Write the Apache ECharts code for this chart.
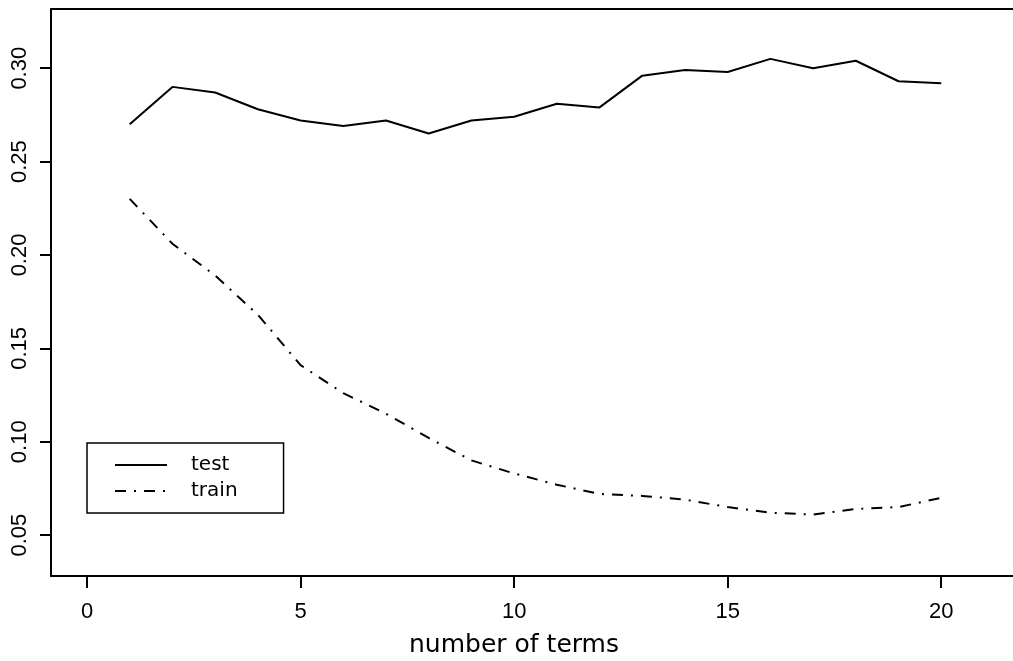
<!DOCTYPE html>
<html>
<head>
<meta charset="utf-8">
<script src="https://cdn.jsdelivr.net/npm/echarts@6/dist/echarts.min.js"></script>
<style>
html, body { margin: 0; padding: 0; background: #fff; }
#main { width: 1013px; height: 661px; }
</style>
</head>
<body>
<div id="main"></div>
<script>
// number of terms
var terms = [1, 2, 3, 4, 5, 6, 7, 8, 9, 10, 11, 12, 13, 14, 15, 16, 17, 18, 19, 20];
// error rates
var testErr = [0.270, 0.290, 0.287, 0.278, 0.272, 0.269, 0.272, 0.265, 0.272, 0.274,
               0.281, 0.279, 0.296, 0.299, 0.298, 0.305, 0.300, 0.304, 0.293, 0.292];
var trainErr = [0.230, 0.206, 0.189, 0.168, 0.141, 0.126, 0.115, 0.102, 0.090, 0.083,
                0.077, 0.072, 0.071, 0.069, 0.065, 0.062, 0.061, 0.064, 0.065, 0.070];
var xTicks = [0, 5, 10, 15, 20];
var yTicks = [0.05, 0.10, 0.15, 0.20, 0.25, 0.30];

function pairs(ys) {
    var out = [];
    for (var i = 0; i < terms.length; i++) out.push([terms[i], ys[i]]);
    return out;
}

var myChart = echarts.init(document.getElementById('main'));

var axisFont = 'Liberation Sans';

var option = {
    backgroundColor: '#fff',
    animation: false,
    grid: { left: 51, right: 0, top: 9, bottom: 85, outerBoundsMode: 'none', containLabel: false },
    legend: {
        orient: 'vertical',
        left: 87,
        top: 443,
        padding: [12, 46, 12, 27],
        itemGap: 6,
        itemWidth: 52,
        itemHeight: 14,
        borderColor: '#000',
        borderWidth: 1.5,
        itemStyle: { opacity: 0 },
        data: ['test', 'train'],
        textStyle: {
            fontFamily: 'DejaVu Sans',
            fontSize: 20,
            color: '#000',
            padding: [0, 0, 0, 19]
        }
    },
    xAxis: [{
        type: 'value',
        min: -0.843,
        max: 21.68,
        name: 'number of terms',
        nameLocation: 'middle',
        nameGap: 57,
        nameTextStyle: {
            fontFamily: 'DejaVu Sans',
            fontSize: 25,
            color: '#000',
            padding: [0, 36, 0, 0]
        },
        splitLine: { show: false },
        axisLine: { onZero: false, lineStyle: { color: '#000', width: 2 } },
        axisTick: {
            customValues: xTicks,
            length: 12,
            lineStyle: { color: '#000', width: 2 }
        },
        axisLabel: {
            customValues: xTicks,
            margin: 25,
            fontFamily: axisFont,
            fontSize: 22,
            color: '#000'
        }
    }, {
        type: 'value',
        position: 'top',
        min: -0.843,
        max: 21.68,
        splitLine: { show: false },
        axisLine: { onZero: false, lineStyle: { color: '#000', width: 2 } },
        axisTick: { show: false },
        axisLabel: { show: false }
    }],
    yAxis: {
        type: 'value',
        min: 0.0281,
        max: 0.3317,
        splitLine: { show: false },
        axisLine: { show: true, onZero: false, lineStyle: { color: '#000', width: 2 } },
        axisTick: {
            customValues: yTicks,
            length: 11,
            lineStyle: { color: '#000', width: 2 }
        },
        axisLabel: {
            customValues: yTicks,
            rotate: 90,
            margin: 20,
            fontFamily: axisFont,
            fontSize: 22,
            color: '#000',
            formatter: function (v) { return v.toFixed(2); }
        }
    },
    series: [{
        name: 'test',
        type: 'line',
        xAxisIndex: 0,
        symbol: 'none',
        data: pairs(testErr),
        lineStyle: { color: '#000', width: 2 },
        itemStyle: { color: '#000' }
    }, {
        name: 'train',
        type: 'line',
        xAxisIndex: 0,
        symbol: 'none',
        data: pairs(trainErr),
        lineStyle: { color: '#000', width: 2, type: [11, 8, 2, 8] },
        itemStyle: { color: '#000' }
    }]
};

myChart.setOption(option);
</script>
</body>
</html>
